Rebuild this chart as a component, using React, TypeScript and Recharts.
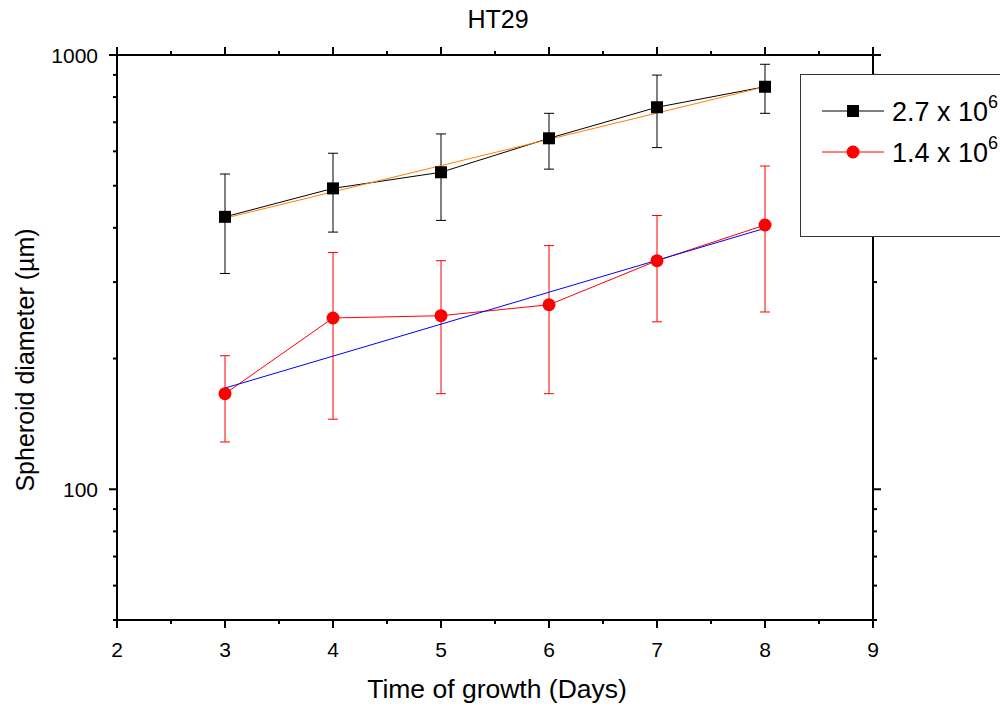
import React from "react";
import { ComposedChart, Line, XAxis, YAxis, ErrorBar, Legend } from "recharts";

// growth days and measured spheroid diameters (µm)
const days = [3, 4, 5, 6, 7, 8];
const highSeeding = [424, 493, 537, 643, 758, 845];
const highSeedingLow = [314, 391, 416, 546, 612, 734];
const highSeedingHigh = [532, 594, 658, 734, 899, 952];
const lowSeeding = [166, 248, 251, 266, 336, 406];
const lowSeedingLow = [128.5, 145, 166, 166, 243, 256];
const lowSeedingHigh = [203, 351, 336, 364, 427, 555];

// exponential fit end points
const fitDays = [3, 8];
const highFit = [421, 845];
const lowFit = [171, 399];

const xTicks = [2, 2.5, 3, 3.5, 4, 4.5, 5, 5.5, 6, 6.5, 7, 7.5, 8, 8.5, 9];
const yTicks = [50, 60, 70, 80, 90, 100, 200, 300, 400, 500, 600, 700, 800, 900, 1000];
const yLabels = [100, 1000];

const FONT = "'Liberation Sans', Arial, sans-serif";

const data = days.map((day, i) => ({
	day,
	high: highSeeding[i],
	highErr: [highSeeding[i] - highSeedingLow[i], highSeedingHigh[i] - highSeeding[i]],
	low: lowSeeding[i],
	lowErr: [lowSeeding[i] - lowSeedingLow[i], lowSeedingHigh[i] - lowSeeding[i]],
}));

const highFitData = fitDays.map((day, i) => ({ day, fit: highFit[i] }));
const lowFitData = fitDays.map((day, i) => ({ day, fit: lowFit[i] }));

const isMajorX = (v: number) => Number.isInteger(v);
const isMajorY = (v: number) => yLabels.includes(v);

const BottomTick = (props: any) => {
	const { x, y, payload } = props;
	const major = isMajorX(payload.value);
	return (
		<g>
			<line x1={x} y1={y} x2={x} y2={y + (major ? 8 : 4)} stroke="#000" strokeWidth={2} />
			{major && (
				<text x={x} y={y + 37} textAnchor="middle" fontSize={21} fontFamily={FONT} fill="#000">
					{payload.value}
				</text>
			)}
		</g>
	);
};

const TopTick = (props: any) => {
	const { x, y, payload } = props;
	const major = isMajorX(payload.value);
	return <line x1={x} y1={y} x2={x} y2={y - (major ? 8 : 4)} stroke="#000" strokeWidth={2} />;
};

const LeftTick = (props: any) => {
	const { x, y, payload } = props;
	const major = isMajorY(payload.value);
	return (
		<g>
			<line x1={x} y1={y} x2={x - (major ? 8 : 4)} y2={y} stroke="#000" strokeWidth={2} />
			{major && (
				<text x={x - 19} y={y + 8} textAnchor="end" fontSize={21} fontFamily={FONT} fill="#000">
					{payload.value}
				</text>
			)}
		</g>
	);
};

const RightTick = (props: any) => {
	const { x, y, payload } = props;
	const major = isMajorY(payload.value);
	return <line x1={x} y1={y} x2={x + (major ? 8 : 4)} y2={y} stroke="#000" strokeWidth={2} />;
};

const SquareDot = (props: any) => {
	const { cx, cy, index } = props;
	return <rect key={`sq-${index}`} x={cx - 6} y={cy - 6} width={12} height={12} fill="#000" />;
};

const LegendBox = () => (
	<div
		style={{
			width: 200,
			height: 163,
			boxSizing: "border-box",
			border: "1px solid #333",
			borderRight: "none",
			background: "#fff",
		}}
	>
		<svg width={199} height={161} style={{ display: "block" }}>
			<line x1={21} y1={36} x2={83} y2={36} stroke="#000" strokeWidth={1} />
			<rect x={46} y={30} width={12} height={12} fill="#000" />
			<text x={91} y={46} fontSize={27} fontFamily={FONT} fill="#000">
				2.7 x 10
				<tspan dy={-13} fontSize={18}>
					6
				</tspan>
			</text>
			<line x1={21} y1={77} x2={83} y2={77} stroke="#ff0000" strokeWidth={1} />
			<circle cx={52} cy={77} r={6.5} fill="#ff0000" />
			<text x={91} y={87} fontSize={27} fontFamily={FONT} fill="#000">
				1.4 x 10
				<tspan dy={-13} fontSize={18}>
					6
				</tspan>
			</text>
		</svg>
	</div>
);

export default function App() {
	return (
		<div style={{ position: "absolute", left: 0, top: 0 }}>
			<ComposedChart
				width={1000}
				height={706}
				data={data}
				margin={{ top: 45, right: 117, bottom: 46, left: 57 }}
			>
				<XAxis
					dataKey="day"
					type="number"
					domain={[2, 9]}
					ticks={xTicks}
					interval={0}
					height={40}
					tickSize={0}
					tickMargin={0}
					tickLine={false}
					tick={<BottomTick />}
					axisLine={{ stroke: "#000", strokeWidth: 2 }}
				/>
				<XAxis
					xAxisId="top"
					orientation="top"
					dataKey="day"
					type="number"
					domain={[2, 9]}
					ticks={xTicks}
					interval={0}
					height={10}
					tickSize={0}
					tickMargin={0}
					tickLine={false}
					tick={<TopTick />}
					axisLine={{ stroke: "#000", strokeWidth: 2 }}
				/>
				<YAxis
					scale="log"
					type="number"
					domain={[50, 1000]}
					allowDataOverflow
					ticks={yTicks}
					interval={0}
					width={60}
					tickSize={0}
					tickMargin={0}
					tickLine={false}
					tick={<LeftTick />}
					axisLine={{ stroke: "#000", strokeWidth: 2 }}
				/>
				<YAxis
					yAxisId="right"
					orientation="right"
					scale="log"
					type="number"
					domain={[50, 1000]}
					allowDataOverflow
					ticks={yTicks}
					interval={0}
					width={10}
					tickSize={0}
					tickMargin={0}
					tickLine={false}
					tick={<RightTick />}
					axisLine={{ stroke: "#000", strokeWidth: 2 }}
				/>
				<Line
					dataKey="high"
					stroke="#000"
					strokeWidth={1}
					dot={<SquareDot />}
					activeDot={false}
					isAnimationActive={false}
				>
					<ErrorBar dataKey="highErr" width={5} stroke="#000" strokeWidth={1} direction="y" isAnimationActive={false} />
				</Line>
				<Line
					data={highFitData}
					dataKey="fit"
					stroke="#ff8000"
					strokeWidth={1}
					dot={false}
					activeDot={false}
					isAnimationActive={false}
				/>
				<Line
					dataKey="low"
					stroke="#ff0000"
					strokeWidth={1}
					dot={{ r: 6.5, fill: "#ff0000", stroke: "#ff0000", strokeWidth: 0 }}
					activeDot={false}
					isAnimationActive={false}
				>
					<ErrorBar dataKey="lowErr" width={5} stroke="#ff0000" strokeWidth={1} direction="y" isAnimationActive={false} />
				</Line>
				<Line
					data={lowFitData}
					dataKey="fit"
					stroke="#0000ff"
					strokeWidth={1}
					dot={false}
					activeDot={false}
					isAnimationActive={false}
				/>
				<Legend
					layout="horizontal"
					verticalAlign="middle"
					align="center"
					content={() => <LegendBox />}
					wrapperStyle={{ left: 800, top: 74, width: 200, height: 163 }}
				/>
				<text x={498} y={28} textAnchor="middle" fontSize={25} fontFamily={FONT} fill="#000">
					HT29
				</text>
				<text x={497} y={698} textAnchor="middle" fontSize={26.5} fontFamily={FONT} fill="#000">
					Time of growth (Days)
				</text>
				<text
					x={34}
					y={360}
					textAnchor="middle"
					fontSize={25}
					fontFamily={FONT}
					fill="#000"
					transform="rotate(-90 34 360)"
				>
					Spheroid diameter (µm)
				</text>
			</ComposedChart>
		</div>
	);
}
